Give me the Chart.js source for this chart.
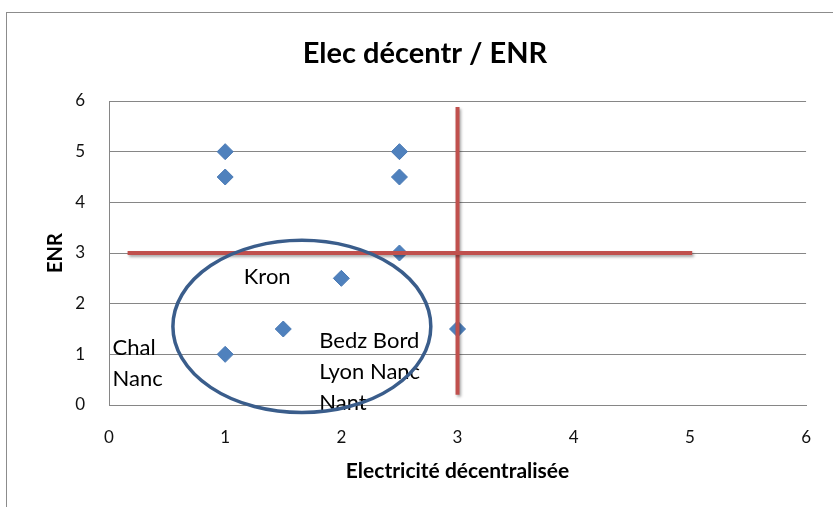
<!DOCTYPE html>
<html>
<head>
<meta charset="utf-8">
<script src="https://cdn.jsdelivr.net/npm/chart.js@4/dist/chart.umd.min.js"></script>
<style>
  html, body { margin: 0; padding: 0; background: #fff; overflow: hidden; }
  canvas { display: block; }
</style>
</head>
<body>
<canvas id="chart" width="833" height="507"></canvas>
<script>
// --- DATA ---
const chartTitle = 'Elec décentr / ENR';
const elecX = [1, 1, 2.5, 2.5, 2.5, 2, 1.5, 1, 3];
const enrY = [5, 4.5, 5, 4.5, 3, 2.5, 1.5, 1, 1.5];

// red threshold lines
const seuilHX = [0.16, 5.02];
const seuilHY = [3, 3];
const seuilVX = [3, 3];
const seuilVY = [0.2, 5.88];

// text notes and the circle around the group (data units)
const noteTexts = ['Kron', 'Chal', 'Nanc', 'Bedz Bord', 'Lyon Nanc', 'Nant'];
const noteX = [1.16, 0.03, 0.03, 1.81, 1.81, 1.81];
const noteY = [2.53, 1.12, 0.52, 1.27, 0.65, 0.05];
const ellipse = [1.66, 1.55, 1.11, 1.70]; // cx, cy, rx, ry

const xTicks = [0, 1, 2, 3, 4, 5, 6];
const yTicks = [0, 1, 2, 3, 4, 5, 6];

const toPoints = (xs, ys) => xs.map((x, i) => ({ x: x, y: ys[i] }));
const FONT = 'Lato, "Liberation Sans", sans-serif';

// frame, title, notes, ellipse, shadows
const extras = {
    id: 'extras',
    beforeDraw(chart) {
        const ctx = chart.ctx;
        ctx.save();
        ctx.fillStyle = '#fff';
        ctx.fillRect(0, 0, chart.width, chart.height);
        ctx.strokeStyle = '#8c8c8c';
        ctx.lineWidth = 1;
        ctx.strokeRect(6.5, 12.5, 900, 600);
        // title is centred on the whole chart object, not the plot
        ctx.fillStyle = '#000';
        ctx.font = 'bold 29px ' + FONT;
        ctx.textAlign = 'center';
        ctx.textBaseline = 'middle';
        ctx.fillText(chartTitle, 425, 54);
        ctx.restore();
    },
    beforeDatasetDraw(chart, args) {
        if (chart.data.datasets[args.index].showLine) {
            const ctx = chart.ctx;
            ctx.save();
            ctx.shadowColor = 'rgba(0,0,0,0.35)';
            ctx.shadowOffsetX = 1.5;
            ctx.shadowOffsetY = 2;
            ctx.shadowBlur = 3;
        }
    },
    afterDatasetDraw(chart, args) {
        if (chart.data.datasets[args.index].showLine) {
            chart.ctx.restore();
        }
    },
    afterDatasetsDraw(chart) {
        const ctx = chart.ctx;
        const xs = chart.scales.x, ys = chart.scales.y;
        ctx.save();
        ctx.fillStyle = '#000';
        ctx.font = '22px ' + FONT;
        ctx.textAlign = 'left';
        ctx.textBaseline = 'middle';
        noteTexts.forEach((t, i) => {
            ctx.fillText(t, xs.getPixelForValue(noteX[i]), ys.getPixelForValue(noteY[i]));
        });
        const cx = xs.getPixelForValue(ellipse[0]);
        const cy = ys.getPixelForValue(ellipse[1]);
        const rx = xs.getPixelForValue(ellipse[0] + ellipse[2]) - cx;
        const ry = cy - ys.getPixelForValue(ellipse[1] + ellipse[3]);
        ctx.beginPath();
        ctx.ellipse(cx, cy, rx, ry, 0, 0, Math.PI * 2);
        ctx.strokeStyle = '#3a5d8b';
        ctx.lineWidth = 3.5;
        ctx.stroke();
        ctx.restore();
    }
};

new Chart(document.getElementById('chart'), {
    type: 'scatter',
    data: {
        datasets: [
            {
                label: 'seuil H',
                data: toPoints(seuilHX, seuilHY),
                showLine: true,
                borderColor: '#c0504d',
                borderWidth: 4,
                pointRadius: 0,
                order: 1
            },
            {
                label: 'seuil V',
                data: toPoints(seuilVX, seuilVY),
                showLine: true,
                borderColor: '#c0504d',
                borderWidth: 4,
                pointRadius: 0,
                order: 1
            },
            {
                label: 'ENR',
                data: toPoints(elecX, enrY),
                pointStyle: 'rectRot',
                pointRadius: 8,
                pointBackgroundColor: '#4f81bd',
                pointBorderColor: '#4a7ab5',
                pointBorderWidth: 1,
                order: 3
            }
        ]
    },
    options: {
        responsive: false,
        animation: false,
        layout: { padding: { left: 0, right: 26, top: 101, bottom: 0 } },
        plugins: {
            legend: { display: false },
            tooltip: { enabled: false },
            title: { display: false }
        },
        scales: {
            x: {
                type: 'linear',
                min: 0, max: 6,
                afterBuildTicks: (s) => { s.ticks = xTicks.map(v => ({ value: v })); },
                afterFit: (s) => { s.height = 102; },
                grid: { display: false, drawTicks: false },
                border: { display: true, color: '#868686', width: 1 },
                ticks: { color: '#111', padding: 22, font: { family: FONT, size: 17 } },
                title: {
                    display: true,
                    text: 'Electricité décentralisée',
                    color: '#000',
                    font: { family: FONT, size: 21, weight: 'bold' },
                    padding: { top: 0, bottom: 23 }
                }
            },
            y: {
                type: 'linear',
                min: 0, max: 6,
                afterBuildTicks: (s) => { s.ticks = yTicks.map(v => ({ value: v })); },
                afterFit: (s) => { s.width = 109; },
                grid: { color: '#868686', lineWidth: 1, drawTicks: false },
                border: { display: true, color: '#868686', width: 1 },
                ticks: { color: '#111', padding: 24, font: { family: FONT, size: 17 } },
                title: {
                    display: true,
                    text: 'ENR',
                    color: '#000',
                    font: { family: FONT, size: 20, weight: 'bold' },
                    padding: { top: 44, bottom: 0 }
                }
            }
        }
    },
    plugins: [extras]
});
</script>
</body>
</html>
